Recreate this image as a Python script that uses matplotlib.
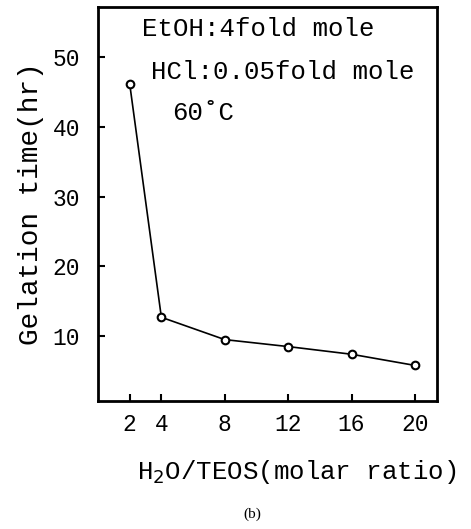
import matplotlib
matplotlib.use("Agg")
import matplotlib.pyplot as plt

# === Данные ===
ratio = [2, 4, 8, 12, 16, 20]
gel_time = [46.2, 12.7, 9.5, 8.5, 7.4, 5.8]
xticks = [2, 4, 8, 12, 16, 20]
yticks = [10, 20, 30, 40, 50]

plt.rcParams['font.family'] = ['Liberation Mono', 'DejaVu Sans Mono']

fig = plt.figure(figsize=(4.71, 5.29), dpi=100)
ax = fig.add_axes([0.208, 0.242, 0.72, 0.745])

ax.plot(ratio, gel_time, color='black', lw=1.2, marker='o', ms=5.5,
        mfc='white', mec='black', mew=1.5)

ax.set_xlim(0, 21.4)
ax.set_ylim(0.7, 57.2)
ax.set_xticks(xticks)
ax.set_yticks(yticks)
ax.tick_params(direction='in', length=5, width=1.5, labelsize=16.5)
ax.tick_params(axis='x', pad=9)
ax.tick_params(axis='y', pad=13)
for s in ax.spines.values():
    s.set_linewidth(2)

ax.set_ylabel("Gelation time(hr)", fontsize=20, labelpad=6)
ax.set_xlabel("H$_2$O/TEOS(molar ratio)", fontsize=18.5)
ax.xaxis.set_label_coords(0.585, -0.145)

ax.text(0.13, 0.945, "EtOH:4fold mole", transform=ax.transAxes, fontsize=18.5,
        va='center')
ax.text(0.157, 0.835, "HCl:0.05fold mole", transform=ax.transAxes, fontsize=18.5,
        va='center')
ax.text(0.22, 0.73, "60\u02daC", transform=ax.transAxes, fontsize=18.5,
        va='center')

fig.text(0.535, 0.022, "(b)", family='Liberation Serif', fontsize=11, ha='center')

fig.savefig("out.png", dpi=100)
